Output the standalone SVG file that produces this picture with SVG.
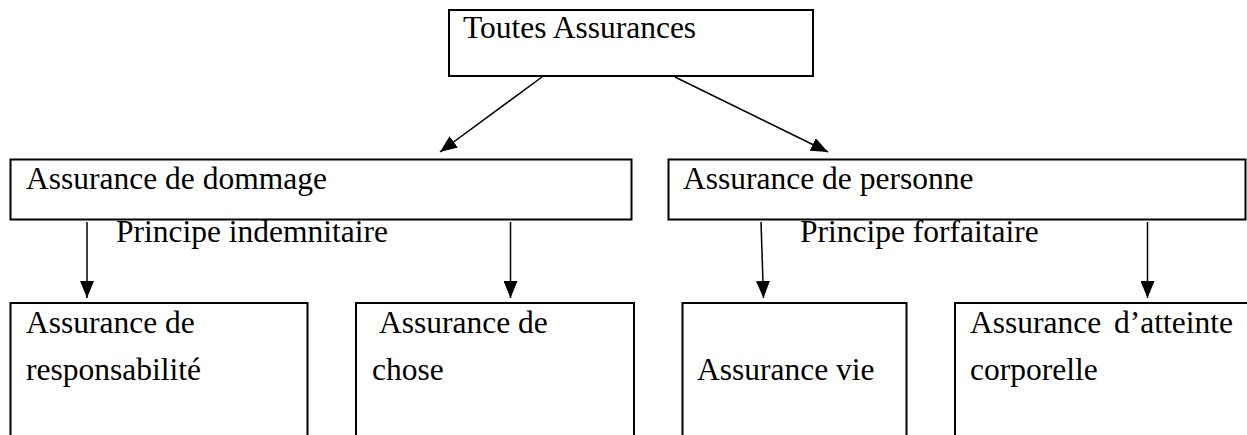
<svg xmlns="http://www.w3.org/2000/svg" width="1247" height="435" viewBox="0 0 1247 435">
  <style>
    .box { fill: #ffffff; stroke: #000000; stroke-width: 2; }
    .lbl { font-family: "Liberation Serif", "Times New Roman", serif; font-size: 31.5px; fill: #000000; }
    .conn { stroke: #000000; stroke-width: 1.5; fill: none; }
  </style>
  <defs>
    <marker id="arrow" markerUnits="userSpaceOnUse" markerWidth="17" markerHeight="14" viewBox="0 0 17 14" refX="17" refY="7" orient="auto">
      <path d="M0,0 L17,7 L0,14 Z" fill="#000000"/>
    </marker>
  </defs>
  <rect width="1247" height="435" fill="#ffffff"/>

  <g id="node-toutes">
    <rect class="box" x="449" y="10" width="364" height="66"/>
    <text class="lbl" x="463" y="38">Toutes Assurances</text>
  </g>

  <g id="node-dommage">
    <rect class="box" x="10.5" y="159.5" width="621" height="60"/>
    <text class="lbl" x="26" y="189">Assurance de dommage</text>
  </g>

  <g id="node-personne">
    <rect class="box" x="668.5" y="159.5" width="577" height="60"/>
    <text class="lbl" x="683" y="189">Assurance de personne</text>
  </g>

  <g id="label-indemnitaire">
    <text class="lbl" x="116" y="242">Principe indemnitaire</text>
  </g>

  <g id="label-forfaitaire">
    <text class="lbl" x="800" y="242">Principe forfaitaire</text>
  </g>

  <g id="node-responsabilite">
    <rect class="box" x="10.5" y="303" width="297" height="150"/>
    <text class="lbl" x="26" y="333">Assurance de</text>
    <text class="lbl" x="26" y="380">responsabilité</text>
  </g>

  <g id="node-chose">
    <rect class="box" x="356" y="303" width="278" height="150"/>
    <text class="lbl" x="379" y="333">Assurance de</text>
    <text class="lbl" x="372" y="380">chose</text>
  </g>

  <g id="node-vie">
    <rect class="box" x="682.5" y="303" width="224" height="150"/>
    <text class="lbl" x="697" y="380">Assurance vie</text>
  </g>

  <g id="node-atteinte">
    <rect class="box" x="955" y="303" width="300" height="150"/>
    <text class="lbl" x="970" y="333" word-spacing="5">Assurance d’atteinte</text>
    <text class="lbl" x="970" y="380">corporelle</text>
  </g>

  <g id="connectors">
    <line class="conn" x1="542" y1="77" x2="440" y2="152" marker-end="url(#arrow)"/>
    <line class="conn" x1="675" y1="77" x2="828" y2="152" marker-end="url(#arrow)"/>
    <line class="conn" x1="87" y1="222" x2="87" y2="298" marker-end="url(#arrow)"/>
    <line class="conn" x1="510.5" y1="222" x2="510.5" y2="298" marker-end="url(#arrow)"/>
    <line class="conn" x1="761" y1="222" x2="763.5" y2="298" marker-end="url(#arrow)"/>
    <line class="conn" x1="1147.5" y1="222" x2="1147.5" y2="298" marker-end="url(#arrow)"/>
  </g>
</svg>
